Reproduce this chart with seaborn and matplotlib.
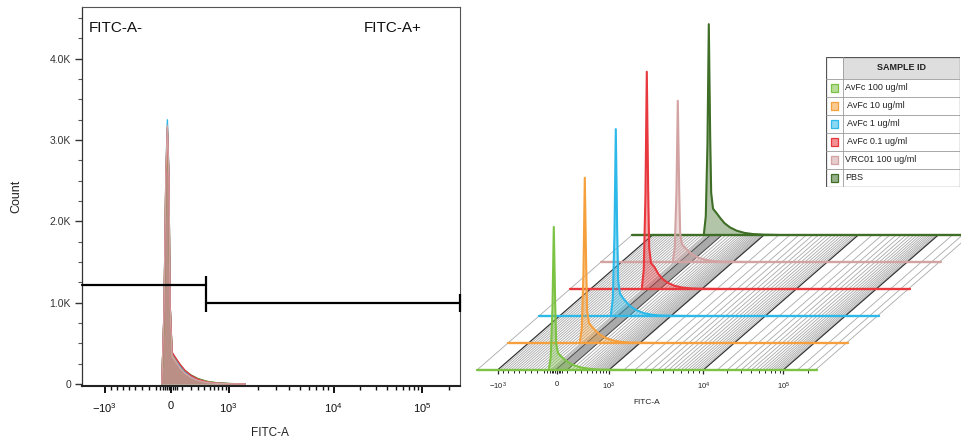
import numpy as np
import pandas as pd
import matplotlib
matplotlib.use("Agg")
import matplotlib.pyplot as plt
import matplotlib.transforms as mtransforms
from matplotlib.collections import LineCollection
from matplotlib.patches import Rectangle, Polygon
from matplotlib.colors import to_rgba
import seaborn as sns

# ---------------------------------------------------------------- data
samples = ["AvFc 100 ug/ml", "AvFc 10 ug/ml", "AvFc 1 ug/ml",
           "AvFc 0.1 ug/ml", "VRC01 100 ug/ml", "PBS"]
table_labels = ["AvFc 100 ug/ml", " AvFc 10 ug/ml", " AvFc 1 ug/ml",
                " AvFc 0.1 ug/ml", "VRC01 100 ug/ml", "PBS"]
sample_colors = ["#7cc243", "#f5a03c", "#2cb8e8", "#e8373d", "#d3a3a3", "#3f6e27"]

# FITC-A bin centres of the histograms
fitc_bins = [-120, -90, -65, -45, -25, -10, 10, 40, 80, 130, 200, 300, 450, 650, 1000, 1500]

# counts per bin, overlay histogram
overlay_counts = {
    "AvFc 100 ug/ml":  [0, 850, 2500, 3100, 2500, 950, 360, 290, 215, 150, 100, 58, 30, 14, 5, 0],
    "AvFc 10 ug/ml":   [0, 880, 2550, 3150, 2550, 980, 370, 290, 210, 145, 92, 50, 22, 9, 3, 0],
    "AvFc 1 ug/ml":    [0, 900, 2600, 3250, 2600, 1000, 380, 310, 220, 150, 95, 50, 22, 9, 3, 0],
    "AvFc 0.1 ug/ml":  [0, 880, 2550, 3150, 2550, 1000, 390, 320, 240, 165, 105, 55, 24, 10, 3, 0],
    "VRC01 100 ug/ml": [0, 900, 2600, 3180, 2550, 960, 340, 270, 195, 130, 80, 42, 18, 7, 2, 0],
    "PBS":             [0, 850, 2500, 3100, 2500, 1000, 380, 310, 235, 165, 110, 65, 32, 15, 5, 0],
}

# counts per bin, staggered (offset) histogram view
staggered_counts = {
    "AvFc 100 ug/ml":  [0, 220, 1050, 2450, 1150, 450, 290, 230, 170, 115, 75, 42, 20, 8, 3, 0],
    "AvFc 10 ug/ml":   [0, 250, 1200, 2830, 1320, 540, 340, 270, 200, 135, 85, 46, 20, 8, 3, 0],
    "AvFc 1 ug/ml":    [0, 290, 1380, 3200, 1480, 600, 380, 300, 220, 150, 95, 50, 22, 9, 3, 0],
    "AvFc 0.1 ug/ml":  [0, 330, 1600, 3720, 1700, 700, 440, 380, 260, 170, 105, 55, 24, 10, 3, 0],
    "VRC01 100 ug/ml": [0, 250, 1200, 2760, 1270, 480, 300, 240, 170, 115, 70, 38, 16, 6, 2, 0],
    "PBS":             [0, 320, 1550, 3610, 1700, 720, 450, 380, 290, 200, 130, 75, 36, 16, 5, 0],
}

# gates
gate_threshold = 430
gate_neg_height = 1220
gate_pos_height = 990

# axis range and ticks of the FITC-A parameter
fitc_range = (-1420, 262144)
fitc_major = [-1000, 0, 1000, 10000, 100000]
fitc_major_labels = [r"$\mathregular{-10^{3}}$", "0", r"$\mathregular{10^{3}}$",
                     r"$\mathregular{10^{4}}$", r"$\mathregular{10^{5}}$"]
fitc_minor = ([-900, -800, -700, -600, -500, -400, -300, -200, -150, -100, -75, -50, -25,
               15, 30, 50]
              + [100, 200, 300, 400, 500, 600, 700, 800, 900]
              + [2000, 3000, 4000, 5000, 6000, 7000, 8000, 9000]
              + [20000, 30000, 40000, 50000, 60000, 70000, 80000, 90000, 200000])
# extra grid lines of the floor between the labelled decades
floor_fine = ([-950, -850, -750, -650, -550, -450, -350, -250]
              + [150, 250, 350, 450, 550, 650, 750, 850, 950]
              + [1500, 2500, 3500, 4500, 5500, 6500, 7500, 8500, 9500]
              + [15000, 25000, 35000, 45000, 55000, 65000, 75000, 85000, 95000, 150000, 250000])
count_major = [0, 1000, 2000, 3000, 4000]
count_labels = ["0", "1.0K", "2.0K", "3.0K", "4.0K"]

# ---------------------------------------------------------------- biexponential-like scale
C_POS, C_NEG = 300.0, 3000.0
SCALE_VALUES = np.array([-1e4, -1e3, 0.0, 1e3, 1e4, 1e5, 1e6])
SCALE_UNITS = np.array([-165.5, 105.0, 171.0, 229.0, 334.0, 423.0, 512.9])


def _compress(x):
    x = np.asarray(x, dtype=float)
    a = np.abs(x)
    return np.where(x >= 0, np.log10(1 + a / C_POS), -np.log10(1 + a / C_NEG))


def _interp_ext(v, xp, fp):
    v = np.asarray(v, dtype=float)
    y = np.interp(v, xp, fp)
    lo = v < xp[0]
    hi = v > xp[-1]
    y = np.where(lo, fp[0] + (v - xp[0]) * (fp[1] - fp[0]) / (xp[1] - xp[0]), y)
    y = np.where(hi, fp[-1] + (v - xp[-1]) * (fp[-1] - fp[-2]) / (xp[-1] - xp[-2]), y)
    return y


SCALE_S = _compress(SCALE_VALUES)


def biex_forward(x):
    return _interp_ext(_compress(x), SCALE_S, SCALE_UNITS)


def biex_inverse(u):
    s = np.clip(_interp_ext(u, SCALE_UNITS, SCALE_S), -6, 6)
    return np.where(s >= 0, C_POS * (10 ** s - 1), -C_NEG * (10 ** (-s) - 1))


# ---------------------------------------------------------------- style
sns.set_style("ticks")
plt.rcParams["font.family"] = ["Liberation Sans", "DejaVu Sans"]
plt.rcParams["mathtext.fontset"] = "custom"
plt.rcParams["mathtext.rm"] = "Liberation Sans"

W, H = 962, 442
fig = plt.figure(figsize=(W / 100, H / 100), dpi=100)

# ================================================================ overlay histogram
ax1 = fig.add_axes([82 / W, 56 / H, 378 / W, 379 / H])
ax1.set_xscale("function", functions=(biex_forward, biex_inverse))

overlay_df = pd.DataFrame(
    [(s, x, c) for s in samples for x, c in zip(fitc_bins, overlay_counts[s])],
    columns=["Sample", "FITC-A", "Count"])
palette = dict(zip(samples, sample_colors))
draw_order = ["PBS", "AvFc 100 ug/ml", "AvFc 10 ug/ml", "AvFc 1 ug/ml",
              "AvFc 0.1 ug/ml", "VRC01 100 ug/ml"]

for s in draw_order:
    ax1.fill_between(fitc_bins, overlay_counts[s], 0, color=palette[s],
                     alpha=0.4, linewidth=0, zorder=2)
sns.lineplot(data=overlay_df, x="FITC-A", y="Count", hue="Sample",
             hue_order=draw_order, palette=palette, estimator=None,
             sort=False, legend=False, linewidth=1.0, ax=ax1, zorder=3)

# gates
ax1.plot([fitc_range[0], gate_threshold], [gate_neg_height] * 2, color="black",
         lw=1.6, marker="|", markevery=[1], markersize=13, markeredgewidth=1.6,
         zorder=5, clip_on=False)
ax1.plot([gate_threshold, fitc_range[1]], [gate_pos_height] * 2, color="black",
         lw=1.6, marker="|", markersize=13, markeredgewidth=1.6, zorder=5,
         clip_on=False)
ax1.text(0.019, 0.962, "FITC-A-", transform=ax1.transAxes, fontsize=11,
         va="top", ha="left", color="#111111")
ax1.text(0.746, 0.962, "FITC-A+", transform=ax1.transAxes, fontsize=11,
         va="top", ha="left", color="#111111")

ax1.set_xlim(*fitc_range)
ax1.set_ylim(-25, 4637)
ax1.set_xticks(fitc_major)
ax1.set_xticklabels(fitc_major_labels)
ax1.set_xticks(fitc_minor, minor=True)
ax1.set_yticks(count_major)
ax1.set_yticklabels(count_labels)
ax1.set_yticks(np.arange(0, 4501, 250), minor=True)
ax1.tick_params(axis="x", which="major", length=5, width=1.4, pad=6,
                labelsize=8, colors="#111111")
ax1.tick_params(axis="x", which="minor", length=3, width=1.0, colors="#111111")
ax1.tick_params(axis="y", which="major", length=5, width=1.0, pad=3,
                labelsize=7.5, colors="#333333")
ax1.tick_params(axis="y", which="minor", length=3, width=0.8, colors="#555555")
for side in ["top", "right"]:
    ax1.spines[side].set_color("#555555")
    ax1.spines[side].set_linewidth(0.8)
ax1.spines["left"].set_color("#333333")
ax1.spines["left"].set_linewidth(0.9)
ax1.spines["bottom"].set_color("#222222")
ax1.spines["bottom"].set_linewidth(1.5)
ax1.set_xlabel("FITC-A", fontsize=8.5, color="#222222")
ax1.set_ylabel("Count", fontsize=9, color="#222222")
ax1.xaxis.set_label_coords(0.497, -0.108)
ax1.yaxis.set_label_coords(-0.159, 0.5)

# ================================================================ staggered histograms
ax2 = fig.add_axes([477 / W, 72 / H, 340 / W, 116.8 / H])
ax2.set_xscale("function", functions=(biex_forward, biex_inverse))
ax2.set_xlim(*fitc_range)
ax2.set_ylim(0, 2000)
for sp in ax2.spines.values():
    sp.set_visible(False)
ax2.set_yticks([])
ax2.set_xticks(fitc_major)
ax2.set_xticklabels(fitc_major_labels)
ax2.set_xticks(fitc_minor, minor=True)
ax2.tick_params(axis="x", which="major", length=3, width=0.9, pad=5,
                labelsize=5.5, colors="#222222")
ax2.tick_params(axis="x", which="minor", length=2, width=0.7, colors="#222222")

step_x, step_y = 0.31, 0.27          # inches between consecutive rows
n_rows = len(samples)
dpi = fig.dpi
y0 = ax2.transData.transform((1.0, 0.0))[1]
floor_tr = (mtransforms.blended_transform_factory(ax2.transData,
                                                  mtransforms.IdentityTransform())
            + mtransforms.Affine2D.from_values(1, 0, step_x * dpi, step_y * dpi, 0, y0))
depth = n_rows - 1

# floor grid
minor_lines = [[(g, 0), (g, depth)] for g in fitc_minor + floor_fine + [fitc_range[0]]]
ax2.add_collection(LineCollection(minor_lines, colors="#a9a9a9", linewidths=0.6,
                                  transform=floor_tr, zorder=1, clip_on=False),
                   autolim=False)
major_lines = [[(g, 0), (g, depth)] for g in fitc_major if g != 0]
ax2.add_collection(LineCollection(major_lines, colors="#333333", linewidths=0.9,
                                  transform=floor_tr, zorder=1.2, clip_on=False),
                   autolim=False)
zero_band = Polygon([(-20, 0), (100, 0), (100, depth), (-20, depth)], closed=True,
                    facecolor="#aaaaaa", edgecolor="#4a4a4a", linewidth=0.7,
                    transform=floor_tr, zorder=1.1, clip_on=False)
ax2.add_patch(zero_band)

for i in reversed(range(n_rows)):
    s = samples[i]
    c = sample_colors[i]
    shift = mtransforms.ScaledTranslation(i * step_x, i * step_y, fig.dpi_scale_trans)
    tr = ax2.transData + shift
    z = 3 + (n_rows - i)
    base = ax2.axhline(0, color=c, lw=1.7, zorder=z + 0.5)
    base.set_transform(ax2.get_yaxis_transform() + shift)
    base.set_clip_on(False)
    ax2.fill_between(fitc_bins, staggered_counts[s], 0, color=c, alpha=0.4,
                     linewidth=0, transform=tr, zorder=z, clip_on=False)
    n_before = len(ax2.lines)
    sns.lineplot(x=fitc_bins, y=staggered_counts[s], color=c, linewidth=1.5,
                 sort=False, estimator=None, ax=ax2)
    for ln in ax2.lines[n_before:]:
        ln.set_transform(tr)
        ln.set_clip_on(False)
        ln.set_zorder(z + 0.6)
ax2.set_xlim(*fitc_range)
ax2.set_ylim(0, 2000)
ax2.set_xlabel("FITC-A", fontsize=6, color="#222222")
ax2.xaxis.set_label_coords(0.5, -0.245)
ax2.set_ylabel("")

# ================================================================ sample table
ax3 = fig.add_axes([826 / W, (H - 187) / H, 134 / W, 130 / H])
ax3.set_xlim(0, 134)
ax3.set_ylim(130, 0)
ax3.axis("off")
ax3.add_patch(Rectangle((17, 0), 117, 22, facecolor="#dedede", edgecolor="none"))
row_h = 18
for k in range(n_rows + 1):
    ax3.plot([0, 134], [22 + k * row_h] * 2, color="#9a9a9a", lw=0.6)
ax3.plot([17, 17], [0, 130], color="#9a9a9a", lw=0.6)
ax3.add_patch(Rectangle((0, 0), 134, 130, facecolor="none", edgecolor="#555555",
                        lw=0.9))
ax3.text(75.5, 11, "SAMPLE ID", fontsize=6.5, fontweight="bold", ha="center",
         va="center", color="#222222")
for k, (lab, c) in enumerate(zip(table_labels, sample_colors)):
    yc = 22 + k * row_h + row_h / 2
    ax3.add_patch(Rectangle((5, yc - 3.8), 7.5, 7.6, facecolor=to_rgba(c, 0.55),
                            edgecolor=c, lw=0.9))
    ax3.text(19, yc, lab, fontsize=6.5, ha="left", va="center", color="#222222")

fig.savefig("out.png", dpi=100)
